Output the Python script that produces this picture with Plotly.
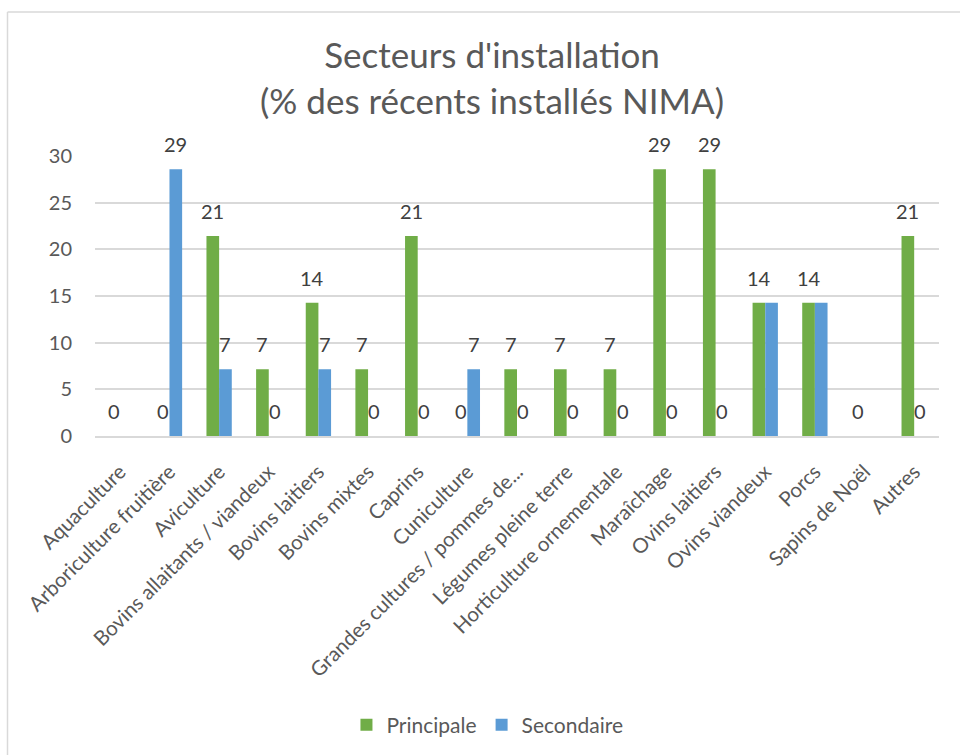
import plotly.graph_objects as go

categories = [
    "Aquaculture", "Arboriculture fruitière", "Aviculture",
    "Bovins allaitants / viandeux", "Bovins laitiers", "Bovins mixtes",
    "Caprins", "Cuniculture", "Grandes cultures / pommes de...",
    "Légumes pleine terre", "Horticulture ornementale", "Maraîchage",
    "Ovins laitiers", "Ovins viandeux", "Porcs", "Sapins de Noël", "Autres",
]
principale = [0, 0, 21.43, 7.14, 14.29, 7.14, 21.43, 0, 7.14, 7.14, 7.14,
              28.57, 28.57, 14.29, 14.29, 0, 21.43]
secondaire = [None, 28.57, 7.14, 0, 7.14, 0, 0, 7.14, 0, 0, 0,
              0, 0, 14.29, 14.29, None, 0]
# data labels as displayed in the reference ("" = label not shown)
principale_labels = ["0", "0", "21", "7", "14", "7", "21", "0", "7", "7", "7",
                     "29", "29", "14", "14", "0", "21"]
secondaire_labels = ["", "29", "7", "0", "7", "0", "0", "7", "0", "0", "0",
                     "0", "0", "", "", "", "0"]
y_ticks = [0, 5, 10, 15, 20, 25, 30]

FONT = "Lato"
GREEN = "#70AD47"
BLUE = "#5B9BD5"

L, R, T, B = 95, 21, 156, 318
W, H = 960, 755
pw, ph = W - L - R, H - T - B

fig = go.Figure()
fig.add_trace(go.Bar(x=categories, y=principale, name="Principale",
                     marker=dict(color=GREEN, line=dict(width=0))))
fig.add_trace(go.Bar(x=categories, y=secondaire, name="Secondaire",
                     marker=dict(color=BLUE, line=dict(width=0))))

# data labels
for vals, labels, dx in ((principale, principale_labels, -6.3),
                         (secondaire, secondaire_labels, 6.3)):
    for c, v, t in zip(categories, vals, labels):
        if v is None or t == "":
            continue
        fig.add_annotation(x=c, y=v, text=t, showarrow=False,
                           xshift=dx, yshift=11, yanchor="bottom",
                           font=dict(family=FONT, size=20, color="#404040"))

# outer border (left and top)
def px_x(p):
    return (p - L) / pw

def px_y(p):
    return (H - B - p) / ph

fig.add_shape(type="line", xref="paper", yref="paper",
              x0=px_x(7.5), x1=px_x(970), y0=px_y(11.5), y1=px_y(11.5),
              line=dict(color="#D9D9D9", width=1.5))
fig.add_shape(type="line", xref="paper", yref="paper",
              x0=px_x(7.5), x1=px_x(7.5), y0=px_y(11.5), y1=px_y(770),
              line=dict(color="#D9D9D9", width=1.5))

fig.update_layout(
    width=W, height=H,
    margin=dict(l=L, r=R, t=T, b=B),
    paper_bgcolor="white", plot_bgcolor="white",
    barmode="group", bargap=0.49, bargroupgap=0,
    title=dict(text="Secteurs d'installation<br>(% des récents installés NIMA)",
               x=(492 - L) / pw, xref="paper", xanchor="center",
               y=1 - 68 / H, yanchor="top",
               font=dict(family=FONT, size=35, color="#595959")),
    font=dict(family=FONT, color="#595959"),
    legend=dict(orientation="h", x=0.465, xanchor="center",
                y=px_y(725), yanchor="middle",
                font=dict(family=FONT, size=21, color="#595959"),
                itemwidth=30, traceorder="normal"),
    xaxis=dict(tickangle=-45, tickfont=dict(family=FONT, size=20.5, color="#595959"),
               showgrid=False, showline=True, linecolor="#D9D9D9", linewidth=1.5,
               ticks="", ticklabelstandoff=14),
    yaxis=dict(range=[0, 30], tickvals=y_ticks, showgrid=True,
               gridcolor="#D9D9D9", gridwidth=1.5, zeroline=False,
               tickfont=dict(family=FONT, size=20, color="#595959"),
               ticks="", ticklabelstandoff=22),
)

fig.write_html("out.html",
               config={"displayModeBar": False},
               post_script="document.body.style.margin='0';"
                           "document.body.style.overflow='hidden';")
